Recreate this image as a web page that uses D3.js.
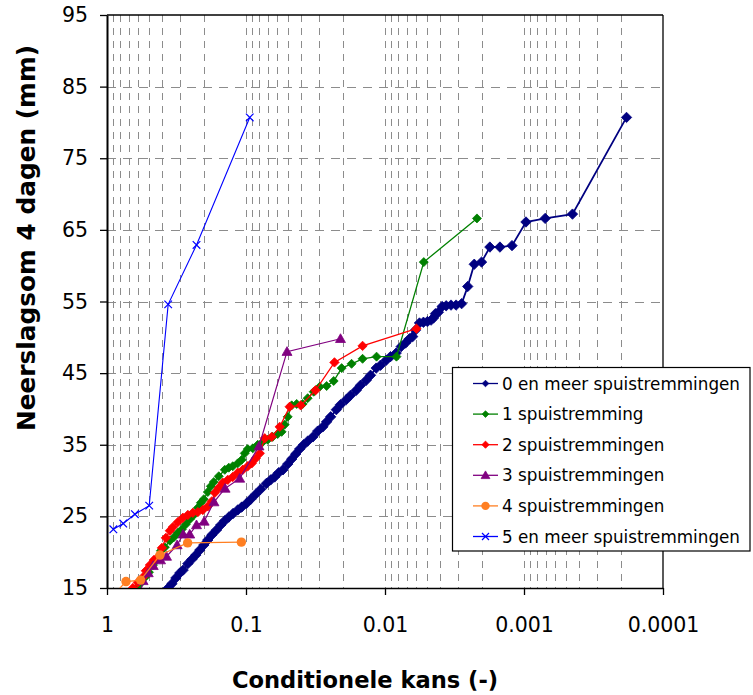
<!DOCTYPE html>
<html><head><meta charset="utf-8">
<script src="https://cdn.jsdelivr.net/npm/d3@7"></script>
<style>
body{margin:0;background:#fff;}
svg{display:block;font-family:"DejaVu Sans",Verdana,sans-serif;}
</style>
</head><body>
<svg id="c" width="753" height="695"></svg>
<script>
// ---- data ----
const seriesNames = ["0 en meer spuistremmingen","1 spuistremming","2 spuistremmingen","3 spuistremmingen","4 spuistremmingen","5 en meer spuistremmingen"];
const xTickValues = [1,0.1,0.01,0.001,0.0001];
const xTickLabels = ["1","0.1","0.01","0.001","0.0001"];
const yTickValues = [15,25,35,45,55,65,75,85,95];
const yGridValues = [25,35,45,55,65,75,85];

const p0 = [0.372,0.363,0.341,0.3195,0.299,0.2832,0.262,0.2453,0.2296,0.2148,0.2011,0.1883,0.1762,0.163,0.1518,0.1421,0.133,0.1239,0.1146,0.1073,0.0993,0.0924,0.0851,0.0783,0.0713,0.0664,0.0622,0.0582,0.0542,0.0501,0.0469,0.0439,0.0411,0.0385,0.036,0.033,0.0305,0.028,0.0263,0.0246,0.0224,0.0209,0.019,0.0177,0.0161,0.015,0.01365,0.01271,0.01157,0.01077,0.0098,0.00913,0.00831,0.00765,0.00712,0.00667,0.00632,0.00604,0.00565,0.00529,0.00495,0.00466,0.00448,0.00434,0.00413,0.00388,0.00363,0.00335,0.00308,0.00281,0.00254,0.00228,0.00202,0.00176,0.00149,0.00122,0.000968,0.000704,0.000448,0.000183];
const v0 = [14.5,15.0,15.6,16.4,17.1,17.5,18.4,19.0,19.6,20.3,21.0,21.7,22.4,23.1,23.8,24.4,24.9,25.4,25.9,26.3,26.8,27.4,28.1,28.8,29.6,30.1,30.5,31.1,31.5,32.3,33.0,33.7,34.4,35.0,35.5,36.1,36.9,37.5,38.2,38.9,39.9,40.6,41.3,41.9,42.6,43.3,44.0,44.7,45.7,46.1,46.8,47.3,47.8,48.7,49.2,49.8,50.1,51.0,52.0,52.1,52.2,52.4,52.7,53.3,53.5,54.3,54.4,54.5,54.5,54.7,57.1,60.2,60.5,62.6,62.6,62.8,66.1,66.6,67.2,80.7];

const p1 = [0.64,0.609,0.57,0.533,0.499,0.467,0.4375,0.4096,0.3833,0.3528,0.3302,0.3091,0.2893,0.2708,0.2535,0.2372,0.222,0.2113,0.2011,0.1883,0.1791,0.1705,0.1569,0.1421,0.133,0.1245,0.1146,0.1073,0.1021,0.0971,0.0894,0.0823,0.0758,0.0698,0.0643,0.0592,0.0554,0.0527,0.0501,0.0469,0.0432,0.0391,0.036,0.0326,0.0295,0.0263,0.0234,0.0205,0.0174,0.0145,0.0115,0.00827,0.00526,0.00218];
const v1 = [14.4,15.0,15.7,16.5,17.2,18.2,19.0,20.2,20.7,21.6,22.1,22.7,23.2,23.9,24.6,25.2,26.2,26.9,27.4,28.4,29.2,29.8,30.6,31.5,31.8,32.0,32.4,32.9,33.8,34.4,34.5,35.0,35.4,35.7,36.1,36.5,36.8,37.8,38.9,40.5,40.7,40.7,41.5,42.4,43.1,43.2,43.9,45.7,46.3,47.0,47.3,47.3,60.5,66.6];

const p2 = [0.684,0.651,0.599,0.551,0.525,0.491,0.46,0.43,0.4027,0.377,0.3528,0.3357,0.3091,0.2845,0.262,0.2412,0.222,0.2045,0.1883,0.1762,0.1676,0.1569,0.1469,0.1352,0.1245,0.1146,0.1055,0.0971,0.0909,0.0851,0.0796,0.0733,0.0653,0.0572,0.0485,0.0404,0.0316,0.0231,0.0145,0.00594];
const v2 = [14.3,15.0,15.8,16.5,17.4,18.2,18.9,19.3,20.6,22.0,23.0,23.5,24.2,24.8,25.2,25.5,25.6,25.9,26.4,27.1,28.3,29.0,29.7,30.1,30.5,31.1,31.5,32.0,32.4,33.1,33.8,35.9,36.1,37.5,40.3,40.5,42.6,46.5,48.8,51.2];

const p3 = [0.58,0.55,0.505,0.465,0.412,0.373,0.313,0.283,0.254,0.227,0.2,0.17,0.1414,0.111,0.0806,0.0507,0.0209];
const v3 = [14.0,16.0,17.1,18.1,18.9,19.4,21.0,22.5,22.5,23.8,24.3,27.0,28.9,30.3,34.8,48.0,49.8];

const p4 = [0.9,0.73,0.573,0.416,0.263,0.108];
const v4 = [14.0,15.9,16.1,19.6,21.3,21.4];

const p5 = [0.9,0.764,0.63,0.497,0.363,0.227,0.094];
const v5 = [23.2,24.0,25.3,26.5,54.6,62.9,80.7];

// ---- styles ----
const colors = ["#000080","#008000","#FF0000","#800080","#FF7F22","#0000FF"];
const shapes = ["diamond","diamond","diamond","triangle","circle","cross"];
const markerSize = [5.2,4.5,4.7,5.0,4.7,3.8];
const lineWidth = [1.8,1.3,1.3,1.2,1.2,1.1];
const legendMarkerSize = [3.3,3.3,3.6,4.4,4.2,3.5];

const allP = [p0,p1,p2,p3,p4,p5];
const allV = [v0,v1,v2,v3,v4,v5];

// ---- layout ----
const L = 107, R = 663, T = 15, B = 588;
const x = d3.scaleLog().domain([1, 0.0001]).range([L, R]);
const y = d3.scaleLinear().domain([15, 95]).range([B, T]);

const svg = d3.select("#c");
svg.append("rect").attr("width",753).attr("height",695).attr("fill","#fff");
svg.append("defs").append("clipPath").attr("id","clip")
  .append("rect").attr("x",L).attr("y",T).attr("width",R-L).attr("height",B-T);

// gridlines
const gridG = svg.append("g");
const minorTicks = x.ticks().filter(d => d < 0.99 && d > 0.000101);
gridG.selectAll("line.v").data(minorTicks).join("line")
  .attr("x1", d => Math.round(x(d))+0.5).attr("x2", d => Math.round(x(d))+0.5)
  .attr("y1", T).attr("y2", B)
  .attr("stroke","#8c8c8c").attr("stroke-width",1).attr("stroke-dasharray","7,6");
gridG.selectAll("line.h").data(yGridValues).join("line")
  .attr("x1", L).attr("x2", R)
  .attr("y1", d => Math.round(y(d))+0.5).attr("y2", d => Math.round(y(d))+0.5)
  .attr("stroke","#8c8c8c").attr("stroke-width",1).attr("stroke-dasharray","9,7");

// frame (top/right)
svg.append("line").attr("x1",L).attr("x2",R).attr("y1",T).attr("y2",T).attr("stroke","#000").attr("stroke-width",1.3);
svg.append("line").attr("x1",R).attr("x2",R).attr("y1",T).attr("y2",B).attr("stroke","#000").attr("stroke-width",1.3);

// axes
const yAxis = d3.axisLeft(y).tickValues(yTickValues).tickFormat(d3.format("d"))
  .tickSize(7).tickSizeOuter(0).tickPadding(12);
const gy = svg.append("g").attr("transform",`translate(${L},0)`).call(yAxis);
gy.select(".domain").attr("stroke","#000").attr("stroke-width",2);
gy.selectAll(".tick line").attr("stroke","#000").attr("stroke-width",1.3);
gy.selectAll(".tick text").attr("font-size","20.5px").attr("fill","#000")
  .attr("font-family",'"DejaVu Sans",Verdana,sans-serif');

const xAxis = d3.axisBottom(x).tickValues(xTickValues).tickFormat((d,i) => xTickLabels[i])
  .tickSize(7).tickSizeOuter(0).tickPadding(22);
const gx = svg.append("g").attr("transform",`translate(0,${B})`).call(xAxis);
gx.select(".domain").attr("stroke","#000").attr("stroke-width",1.6);
gx.selectAll(".tick line").attr("stroke","#000").attr("stroke-width",1.3);
gx.selectAll(".tick text").attr("font-size","20.5px").attr("fill","#000")
  .attr("font-family",'"DejaVu Sans",Verdana,sans-serif');

// axis titles
svg.append("text").attr("transform","translate(35,238) rotate(-90)")
  .attr("text-anchor","middle").attr("font-weight","bold").attr("font-size","24.8px")
  .text("Neerslagsom 4 dagen (mm)");
svg.append("text").attr("x",365).attr("y",688)
  .attr("text-anchor","middle").attr("font-weight","bold").attr("font-size","22.6px")
  .text("Conditionele kans (-)");

// marker generator
function markerPath(shape, r){
  if (shape === "diamond") return `M0,${-r}L${r},0L0,${r}L${-r},0Z`;
  if (shape === "triangle") return `M0,${-r}L${r},${r*0.75}L${-r},${r*0.75}Z`;
  if (shape === "cross") return `M${-r},${-r}L${r},${r}M${-r},${r}L${r},${-r}`;
  return null;
}
function drawMarker(g, shape, r, color){
  if (shape === "circle") {
    g.append("circle").attr("r", r).attr("fill", color);
  } else if (shape === "cross") {
    g.append("path").attr("d", markerPath(shape, r)).attr("fill","none").attr("stroke",color).attr("stroke-width",1.2);
  } else {
    g.append("path").attr("d", markerPath(shape, r)).attr("fill", color).attr("stroke", color).attr("stroke-width",0.8);
  }
}

// series
const plotG = svg.append("g").attr("clip-path","url(#clip)");
const line = d3.line().x(d => x(d[0])).y(d => y(d[1]));
allP.forEach((ps, si) => {
  const pts = ps.map((p, i) => [p, allV[si][i]]);
  const g = plotG.append("g");
  g.append("path").datum(pts).attr("d", line).attr("fill","none")
    .attr("stroke", colors[si]).attr("stroke-width", lineWidth[si]);
  pts.forEach(d => {
    const mg = g.append("g").attr("transform", `translate(${x(d[0])},${y(d[1])})`);
    drawMarker(mg, shapes[si], markerSize[si], colors[si]);
  });
});

// legend
const lg = svg.append("g");
lg.append("rect").attr("x",452.5).attr("y",367.5).attr("width",297.5).attr("height",183.5)
  .attr("fill","#fff").attr("stroke","#000").attr("stroke-width",1.2);
seriesNames.forEach((name, i) => {
  const yy = 383.5 + i*30.6;
  lg.append("line").attr("x1",473).attr("x2",498).attr("y1",yy).attr("y2",yy)
    .attr("stroke",colors[i]).attr("stroke-width",1.3);
  const mg = lg.append("g").attr("transform",`translate(485.5,${yy})`);
  drawMarker(mg, shapes[i], legendMarkerSize[i], colors[i]);
  lg.append("text").attr("x",502).attr("y",yy).attr("dy","0.36em")
    .attr("font-size","16.8px").attr("fill","#000").text(name);
});
</script>
</body></html>
